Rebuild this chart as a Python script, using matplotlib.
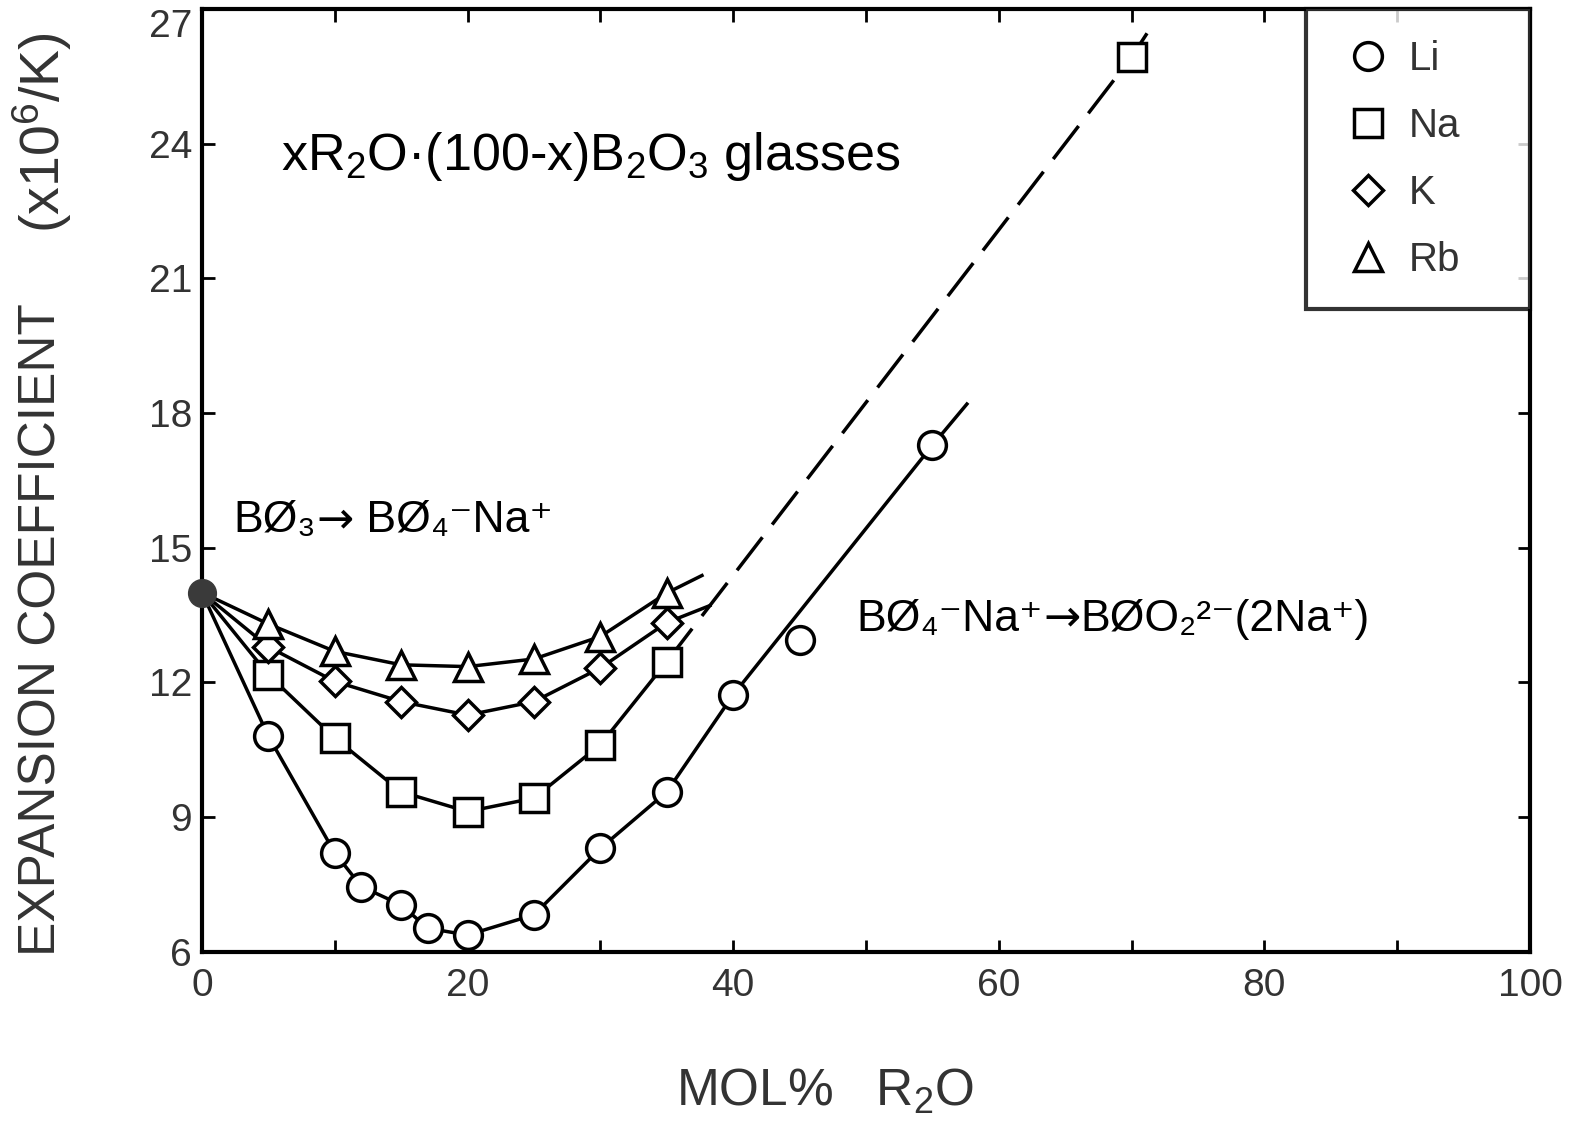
import matplotlib
matplotlib.use('Agg')
import matplotlib.pyplot as plt
from matplotlib.lines import Line2D
from matplotlib.transforms import offset_copy

LIB = ['Liberation Sans', 'DejaVu Sans']
plt.rcParams['font.family'] = LIB
plt.rcParams['mathtext.fontset'] = 'custom'
plt.rcParams['mathtext.rm'] = 'Liberation Sans'

# expansion coefficient (x10^-6/K) vs mol% R2O, all series start from pure B2O3
x0, y0 = 0, 14.0

li_x = [5, 10, 12, 15, 17, 20, 25, 30, 35, 40, 45, 55]
li_y = [10.8, 8.2, 7.45, 7.04, 6.52, 6.37, 6.82, 8.3, 9.56, 11.72, 12.94, 17.28]
# trend drawn through the Li data (45 % point sits off the line)
li_line_x = [0, 5, 10, 12, 15, 17, 20, 25, 30, 35, 40, 55, 57.6]
li_line_y = [14.0, 10.8, 8.2, 7.45, 7.04, 6.52, 6.37, 6.82, 8.3, 9.56, 11.72, 17.28, 18.2]

na_x = [5, 10, 15, 20, 25, 30, 35, 70]
na_y = [12.17, 10.76, 9.56, 9.12, 9.42, 10.61, 12.46, 25.93]
na_dash_x = [35, 70, 71.8]
na_dash_y = [12.46, 25.93, 26.75]

k_x = [5, 10, 15, 20, 25, 30, 35]
k_y = [12.79, 12.02, 11.57, 11.27, 11.57, 12.32, 13.33]
k_end = (38.25, 13.71)

rb_x = [5, 10, 15, 20, 25, 30, 35]
rb_y = [13.3, 12.69, 12.39, 12.35, 12.52, 13.02, 13.99]
rb_end = (37.65, 14.38)

x_ticks = [0, 20, 40, 60, 80, 100]
y_ticks = [6, 9, 12, 15, 18, 21, 24, 27]

fig = plt.figure(figsize=(15.84, 11.21), dpi=100)
ax = fig.add_axes([0.1275, 0.1511, 0.8384, 0.8408])

lw = 2.5
mew = 2.5
mk = dict(color='black', mfc='white', mew=mew, linestyle='none', zorder=4)

# connecting lines
ax.plot(li_line_x, li_line_y, color='black', lw=lw, zorder=3)
ax.plot([x0] + na_x[:7], [y0] + na_y[:7], color='black', lw=lw, zorder=3)
ax.plot(na_dash_x, na_dash_y, color='black', lw=lw, linestyle=(0, (12, 4.6)), zorder=3)
ax.plot([x0] + k_x + [k_end[0]], [y0] + k_y + [k_end[1]], color='black', lw=lw, zorder=3)
ax.plot([x0] + rb_x + [rb_end[0]], [y0] + rb_y + [rb_end[1]], color='black', lw=lw, zorder=3)

# data points
ax.plot(li_x, li_y, marker='o', ms=20, **mk)
ax.plot(na_x, na_y, marker='s', ms=20, **mk)
ax.plot(k_x, k_y, marker='D', ms=15, **mk)
ax.plot(rb_x, rb_y, marker='^', ms=20, **mk)
ax.plot(x0, y0, marker='o', ms=20, color='#3a3a3a', clip_on=False, zorder=6)

ax.set_xlim(0, 100)
ax.set_ylim(6, 27)
ax.set_xticks(x_ticks)
ax.set_xticks(range(0, 101, 10), minor=True)
ax.set_yticks(y_ticks)
ax.tick_params(which='both', direction='in', top=True, right=True, length=9, width=2,
               labelsize=28, labelcolor='#333333')
ax.tick_params(axis='x', pad=12)
ax.tick_params(axis='y', pad=7)
ax.yaxis.get_major_ticks()[-1].label1.set_verticalalignment('top')
for s in ax.spines.values():
    s.set_linewidth(3)

handles = [
    Line2D([], [], marker='o', ms=20, color='black', mfc='white', mew=mew, linestyle='none'),
    Line2D([], [], marker='s', ms=20, color='black', mfc='white', mew=mew, linestyle='none'),
    Line2D([], [], marker='D', ms=15, color='black', mfc='white', mew=mew, linestyle='none'),
    Line2D([], [], marker='^', ms=20, color='black', mfc='white', mew=mew, linestyle='none'),
]
leg = ax.legend(handles, ['Li', 'Na', 'K', 'Rb'], loc='upper left', mode='expand',
                bbox_to_anchor=(0.8312, 0.0, 0.1688, 1.0), borderaxespad=0,
                fontsize=29, frameon=True, fancybox=False, edgecolor='black',
                handlelength=1.55, handletextpad=0.25, labelspacing=0.72, borderpad=0.76)
leg.get_frame().set_linewidth(3)
for t in leg.get_texts():
    t.set_color('#333333')


def chain_text(x, y, parts, size):
    # write pieces one after another on the same baseline, each in its own font
    r = fig.canvas.get_renderer()
    dx = 0
    for s, fam in parts:
        t = ax.text(x, y, s, fontsize=size, family=fam, ha='left', va='baseline',
                    transform=offset_copy(ax.transData, fig=fig, x=dx, y=0, units='dots'))
        dx += t.get_window_extent(renderer=r).width


# annotations
ax.text(5.95, 23.42, r'xR$\mathregular{_2}$O·(100-x)B$\mathregular{_2}$O$\mathregular{_3}$ glasses',
        fontsize=37.5, ha='left', va='baseline')
chain_text(2.4, 15.35, [('BØ₃', LIB), ('→', 'DejaVu Sans'), (' BØ₄⁻Na⁺', LIB)], 32)
chain_text(49.3, 13.15, [('BØ₄⁻Na⁺', LIB), ('→', 'DejaVu Sans'), ('BØO₂²⁻(2Na⁺)', LIB)], 32)

# axis titles
fig.text(0.0268, 0.438, 'EXPANSION COEFFICIENT', rotation=90, ha='center', va='center',
         fontsize=37, color='#333333')
fig.text(0.0268, 0.882, r'(x10$\mathregular{^6}$/K)', rotation=90, ha='center', va='center',
         fontsize=40, color='#333333')
fig.text(0.521, 0.0134, r'MOL%   R$\mathregular{_2}$O', ha='center', va='baseline',
         fontsize=37, color='#333333')

fig.savefig('out.png', dpi=100)
